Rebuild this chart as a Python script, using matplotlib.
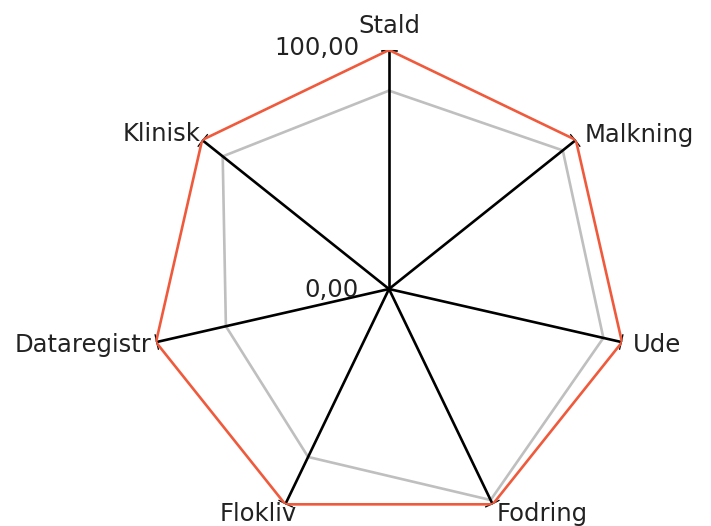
import matplotlib
matplotlib.use('Agg')
import matplotlib.pyplot as plt
import numpy as np

labels = ['Stald', 'Malkning', 'Ude', 'Fodring', 'Flokliv', 'Dataregistr', 'Klinisk']
target = [100, 100, 100, 100, 100, 100, 100]
actual = [83, 93, 92, 98, 78, 70, 89]
tick_labels = ['0,00', '100,00']

# label offsets in pixels from spoke end
offsets = [(0, 24, 'center'), (9, 5, 'left'), (11, -3, 'left'), (4, -10, 'left'),
           (12, -10, 'right'), (-4, -3, 'right'), (-2, 6, 'right')]

n = len(labels)
theta = np.arange(n) * 2 * np.pi / n

fig = plt.figure(figsize=(7.11, 5.26), dpi=100)
ax = fig.add_axes([150 / 711, -2 / 526, 478 / 711, 478 / 526], projection='polar')
ax.set_theta_offset(np.pi / 2)
ax.set_theta_direction(-1)
ax.set_ylim(0, 100)
ax.grid(False)
ax.spines['polar'].set_visible(False)
ax.set_xticks([])
ax.set_yticks([])
ax.patch.set_visible(False)

th = np.append(theta, theta[0])
ax.plot(th, np.append(actual, actual[0]), color='#bfbfbf', lw=1.9, zorder=1)

for t in theta:
    ax.plot([t, t], [0, 100], color='black', lw=1.9, zorder=2)
    ax.plot([t - 0.028, t + 0.028], [100, 100], color='black', lw=1.9, zorder=2)

ax.plot(th, np.append(target, target[0]), color='#f05a3c', lw=1.9, zorder=3)

txt = dict(textcoords='offset pixels', va='center', fontsize=17.5, color='#222222')
for t, lab, (dx, dy, ha) in zip(theta, labels, offsets):
    ax.annotate(lab, xy=(t, 100), xytext=(dx, dy), ha=ha, **txt)

ax.annotate(tick_labels[1], xy=(0, 100), xytext=(-30, 2), ha='right', **txt)
ax.annotate(tick_labels[0], xy=(0, 0), xytext=(-30, -1), ha='right', **txt)

fig.savefig('out.png', dpi=100)
